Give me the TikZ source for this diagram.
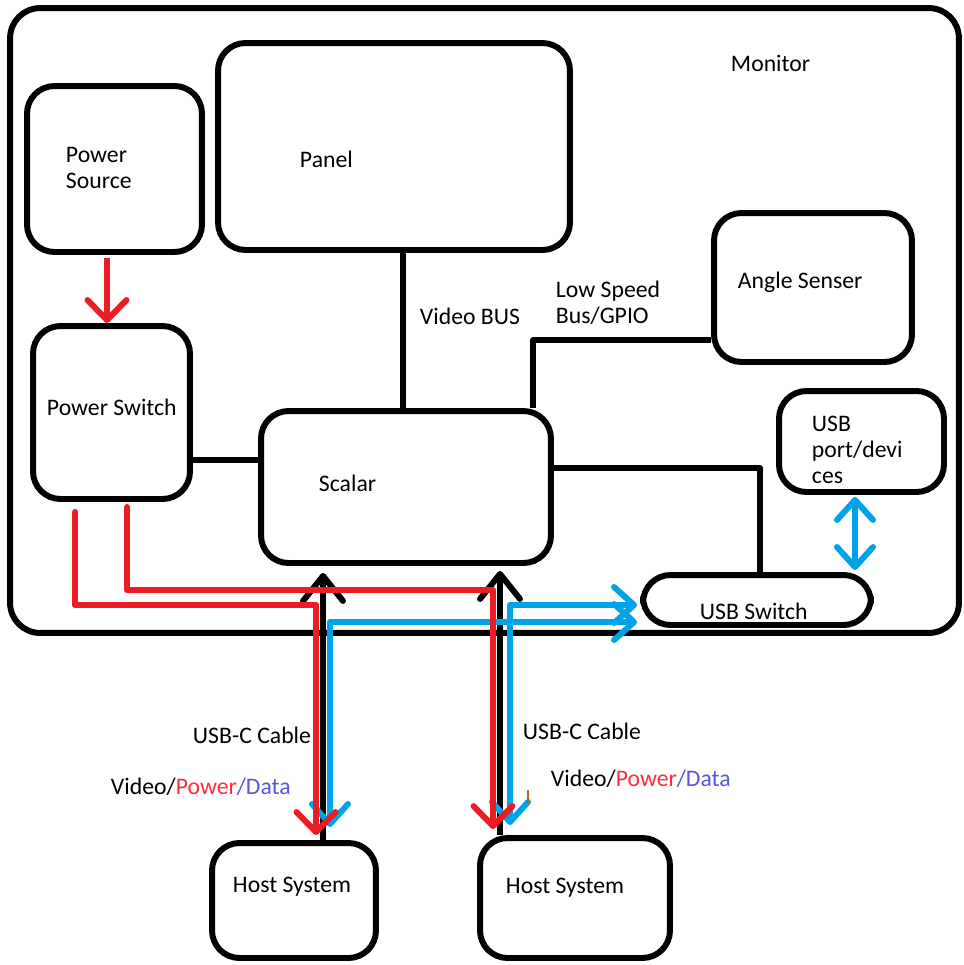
\documentclass[tikz,border=0pt]{standalone}
\usepackage{fontspec}
\setmainfont{Carlito}
\usepackage{xcolor}
\usetikzlibrary{arrows.meta}
\definecolor{PaintRed}{HTML}{ED1C24}
\definecolor{PaintBlue}{HTML}{00A2E8}
\definecolor{TextRed}{HTML}{FF2A3A}
\definecolor{TextBlue}{HTML}{5656DE}
\definecolor{CursorBrown}{HTML}{B5651D}
\colorlet{PowerLine}{PaintRed}
\colorlet{DataLine}{PaintBlue}

\begin{document}
\begin{tikzpicture}[
        x = 0.02cm,
        y = -0.02cm,
        line width = 3.4pt,
        line join  = round,
        box/.style = {
            draw,
            rounded corners = 0.55cm,
            inner sep       = 0pt,
        },
        headed/.style = {-{Straight Barb[round, length = 0.4cm, width = 0.78cm]}},
        twoheaded/.style = {{Straight Barb[round, length = 0.4cm, width = 0.72cm]}-{Straight Barb[round, length = 0.4cm, width = 0.72cm]}},
        upheaded/.style = {-{Straight Barb[round, length = 0.5cm, width = 0.8cm]}},
    ]
    \useasboundingbox (0, 0) rectangle (964, 965);

    % blocks
    \node (monitor)   at (484.5, 320.5) [box, rounded corners = 0.6cm, minimum width = 18.98cm, minimum height = 12.5cm] {};
    \node (psource)   at (114.5, 169)   [box, minimum width = 3.5cm,  minimum height = 3.32cm] {};
    \node (panel)     at (394, 146.5)   [box, minimum width = 7.04cm, minimum height = 4.14cm] {};
    \node (angle)     at (813, 287.5)   [box, minimum width = 3.96cm, minimum height = 2.98cm] {};
    \node (pswitch)   at (111.5, 412.5) [box, minimum width = 3.14cm, minimum height = 3.46cm] {};
    \node (scalar)    at (406, 487)     [box, minimum width = 5.8cm,  minimum height = 3.04cm] {};
    \node (usbport)   at (861.5, 441.5) [box, minimum width = 3.3cm,  minimum height = 2.02cm] {};
    \node (usbswitch) at (757, 600)     [box, minimum width = 4.56cm, minimum height = 1.0cm] {};
    \node (hostA)     at (294, 900.5)   [box, minimum width = 3.28cm, minimum height = 2.3cm] {};
    \node (hostB)     at (575, 898)     [box, minimum width = 3.8cm,  minimum height = 2.4cm] {};

    % black buses
    \coordinate (vbus)  at (403, 0);
    \coordinate (lsbus) at (533, 340);
    \coordinate (pbus)  at (0, 460);
    \coordinate (ubus)  at (760, 468);
    \coordinate (va)    at (323, 0);
    \coordinate (vb)    at (500, 0);

    \draw (panel.south -| vbus) -- (scalar.north -| vbus);
    \draw (scalar.north -| lsbus) -- (lsbus) -- (angle.west |- lsbus);
    \draw (pswitch.east |- pbus) -- (scalar.west |- pbus);
    \draw (scalar.east |- ubus) -- (ubus) -- (usbswitch.north -| ubus);
    \draw[upheaded] (hostA.north -| va) -- ([yshift = -0.14cm]scalar.south -| va);
    \draw[upheaded] (hostB.north -| vb) -- ([yshift = -0.1cm]scalar.south -| vb);

    % data lines
    \coordinate (ba) at (330, 622);
    \coordinate (bb) at (510, 605);
    \coordinate (bc) at (855, 0);

    \draw[DataLine, twoheaded] ([yshift = 0.26cm]hostA.north -| ba) |- ([xshift = -0.06cm]usbswitch.west |- ba);
    \draw[DataLine, twoheaded] ([yshift = 0.2cm]hostB.north -| bb) |- ([xshift = -0.06cm]usbswitch.west |- bb);
    \draw[DataLine, twoheaded] ([yshift = -0.04cm]usbport.south -| bc) -- ([yshift = 0.04cm]usbswitch.north -| bc);

    % power lines
    \coordinate (pa)  at (75, 605);
    \coordinate (pb)  at (127, 590);
    \coordinate (pc)  at (107, 0);
    \coordinate (pa2) at (316, 0);
    \coordinate (pb2) at (493, 0);

    \draw[PowerLine, headed] ([yshift = -0.06cm]psource.south -| pc) -- (pswitch.north -| pc);
    \draw[PowerLine, headed, line cap = round] ([yshift = -0.2cm]pswitch.south -| pa) -- (pa) -| ([yshift = 0.1cm]hostA.north -| pa2);
    \draw[PowerLine, headed, line cap = round] ([yshift = -0.1cm]pswitch.south -| pb) -- (pb) -| ([yshift = 0.12cm]hostB.north -| pb2);

    \draw[CursorBrown, line width = 0.6pt] (528, 790) -- (528, 804);

    % texts
    \begin{scope}[
        every node/.style = {
            anchor    = west,
            inner sep = 0pt,
            font      = \fontsize{13.5pt}{14.8pt}\selectfont,
        }
    ]
        \node (tmonitor) at (728, 63)  {Monitor};
        \node (tsource)  at (63, 168)  [align = left] {Power\\Source};
        \node (tpanel)   at (297, 159) {Panel};
        \node (tangle)   at (735, 282) {Angle Senser};
        \node (tvbus)    at (417, 316) {Video BUS};
        \node (tlsbus)   at (553, 303) [align = left] {Low Speed\\Bus/GPIO};
        \node (tswitch)  at (44, 407)  {Power Switch};
        \node (tscalar)  at (316, 483) {Scalar};
        \node (tport)    at (809, 450) [align = left] {USB\\port/devi\\ces};
        \node (tusbsw)   at (697, 611) {USB Switch};
        \node (tcableA)  at (190, 735) {USB-C Cable};
        \node (tvpdA)    at (108, 787) {Video/\textcolor{TextRed}{Power}\textcolor{TextBlue}{/Data}};
        \node (tcableB)  at (520, 731) {USB-C Cable};
        \node (tvpdB)    at (548, 779) {Video/\textcolor{TextRed}{Power}\textcolor{TextBlue}{/Data}};
        \node (thostA)   at (230, 887) {Host System};
        \node (thostB)   at (503, 888) {Host System};
    \end{scope}
\end{tikzpicture}
\end{document}
